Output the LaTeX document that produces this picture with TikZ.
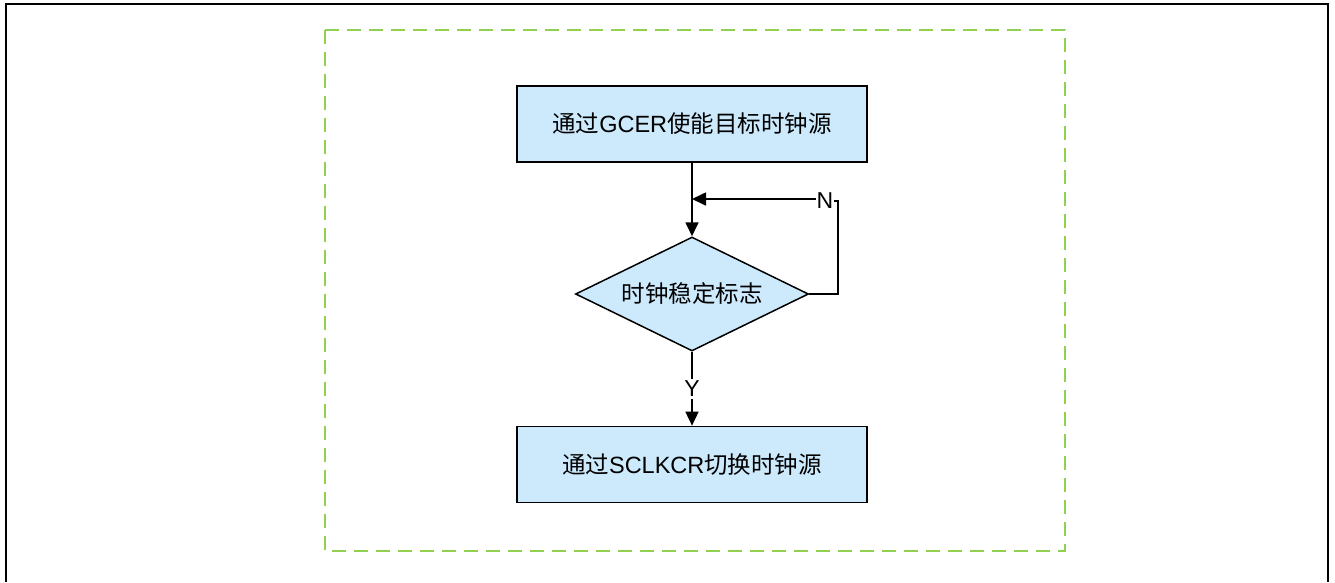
\documentclass[tikz,border=0pt]{standalone}
\usepackage{fontspec}
\setmainfont{Liberation Sans}
\newfontfamily\cjk{Noto Sans CJK SC}
\usetikzlibrary{arrows.meta,shapes.geometric}
\definecolor{boxfill}{HTML}{CCEAFC}
\definecolor{dashgreen}{HTML}{92D050}
\tikzset{
  procbox/.style={draw=black, line width=1.7pt, fill=boxfill, minimum width=350pt, minimum height=76pt, inner sep=0pt, font=\fontsize{23.5pt}{26pt}\selectfont},
  decbox/.style={draw=black, line width=1.5pt, fill=boxfill, diamond, aspect=2.04, minimum width=233pt, minimum height=114pt, inner sep=0pt, font=\fontsize{23.5pt}{26pt}\selectfont},
  conn/.style={line width=1.7pt, -{Triangle[length=14pt,width=13pt]}},
  plain/.style={line width=1.7pt},
  lbl/.style={font=\fontsize{23pt}{26pt}\selectfont, inner sep=1pt, fill=white}
}
\begin{document}
\begin{tikzpicture}[x=1pt,y=-1pt]
\useasboundingbox (0,0) rectangle (1335,582);
\fill[white] (0,0) rectangle (1335,582);
% outer frame
\draw[line width=2.6pt] (6,582) -- (6,4) -- (1328,4) -- (1328,582);
% green dashed area
\draw[dashgreen, line width=2pt, dash pattern=on 14pt off 8pt] (325,30) rectangle (1065,551);
% nodes
\node[procbox] (b1) at (692,124) {{\cjk 通过}GCER{\cjk 使能目标时钟源}};
\node[decbox] (d) at (692,294) {\cjk 时钟稳定标志};
\node[procbox] (b2) at (692,464.5) {{\cjk 通过}SCLKCR{\cjk 切换时钟源}};
\coordinate (j) at (692,199);
\coordinate (r1) at (838,294);
\coordinate (r2) at (838,201);
% connectors
\draw[conn] (b1.south) -- (d.north);
\draw[plain] (d.east) -- (r1) -- (r2) -- ++(-4,0) node[lbl, anchor=east, fill=none, inner sep=0pt] (n) {N};
\draw[conn] (n.west |- j) -- (j);
\draw[conn] (d.south) -- (b2.north) node[lbl, pos=0.5, inner sep=2pt] (y) {Y};
\end{tikzpicture}
\end{document}
